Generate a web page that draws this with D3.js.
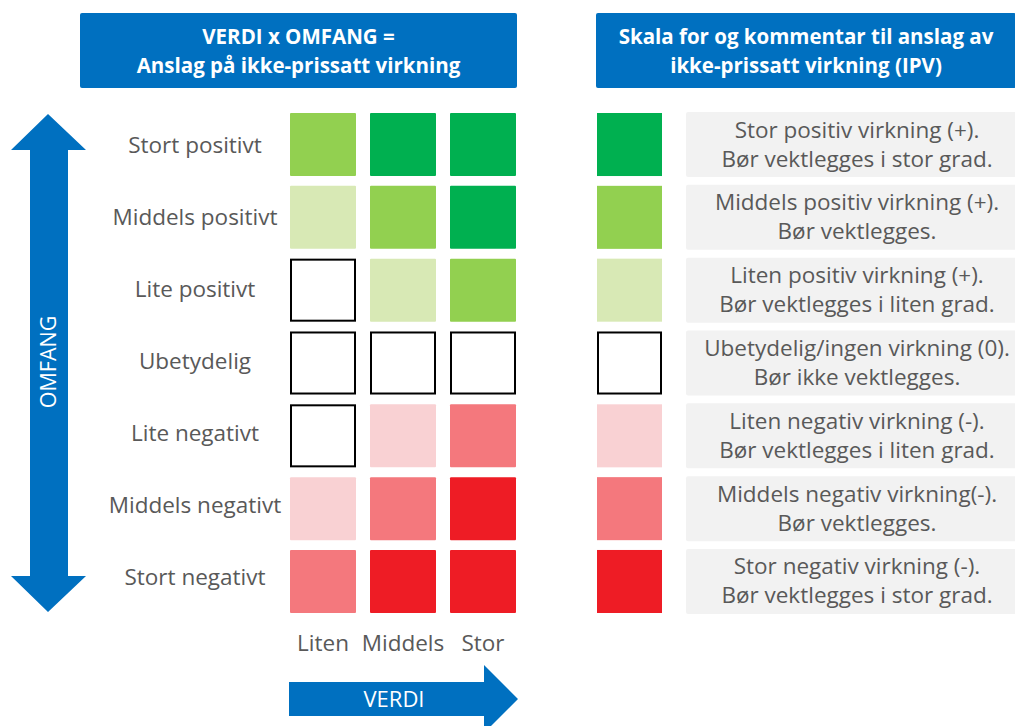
<!DOCTYPE html>
<html><head><meta charset="utf-8">
<script src="https://cdn.jsdelivr.net/npm/d3@7"></script>
<style>body{margin:0;background:#fff}svg{display:block}</style>
</head><body>
<svg id="c" width="1015" height="726"></svg>
<script>
const rowLabels = ["Stort positivt","Middels positivt","Lite positivt","Ubetydelig","Lite negativt","Middels negativt","Stort negativt"];
const colLabels = ["Liten","Middels","Stor"];
// impact level per row (top to bottom) and column (Liten, Middels, Stor)
const gridValues = [
  [2,3,3],
  [1,2,3],
  [0,1,2],
  [0,0,0],
  [0,-1,-2],
  [-1,-2,-3],
  [-2,-3,-3]
];
const scaleLevels = [3,2,1,0,-1,-2,-3];
const scaleLine1 = ["Stor positiv virkning (+).","Middels positiv virkning (+).","Liten positiv virkning (+).","Ubetydelig/ingen virkning (0).","Liten negativ virkning (-).","Middels negativ virkning(-).","Stor negativ virkning (-)."];
const scaleLine2 = ["Bør vektlegges i stor grad.","Bør vektlegges.","Bør vektlegges i liten grad.","Bør ikke vektlegges.","Bør vektlegges i liten grad.","Bør vektlegges.","Bør vektlegges i stor grad."];
const header1 = ["VERDI x OMFANG =","Anslag på ikke-prissatt virkning"];
const header2 = ["Skala for og kommentar til anslag av","ikke-prissatt virkning (IPV)"];
const axisY = "OMFANG", axisX = "VERDI";

const colorScale = d3.scaleOrdinal()
  .domain([3,2,1,0,-1,-2,-3])
  .range(["#00B050","#92D050","#D8E9B5","#FFFFFF","#F9D1D3","#F4787D","#EE1C25"]);

const svg = d3.select("#c");
const BLUE = "#0070C0", TXT = "#595959";
const FONT = "'Open Sans', 'Noto Sans', sans-serif";

const x = d3.scaleBand().domain(colLabels).range([290,516]).paddingInner(0.175);
const y = d3.scaleBand().domain(rowLabels).range([113,613]).paddingInner(0.1346);
const yLabel = d3.scalePoint().domain(rowLabels).range([145,577]);

// headers
function header(x0, x1, lines){
  svg.append("rect").attr("x",x0).attr("y",13).attr("width",x1-x0).attr("height",75).attr("rx",2).attr("fill",BLUE);
  svg.selectAll(null).data(lines).enter().append("text")
    .attr("x",(x0+x1)/2).attr("y",(d,i)=>44+i*29)
    .attr("text-anchor","middle").attr("fill","#fff")
    .attr("font-family",FONT).attr("font-weight","bold").attr("font-size",20.5)
    .text(d=>d);
}
header(80,517,header1);
header(596,1016,header2);

// grid
const g = svg.append("g");
gridValues.forEach((row,ri)=>{
  row.forEach((v,ci)=>{
    const zero = v===0;
    g.append("rect")
      .attr("x",x(colLabels[ci]) + (zero?1:0))
      .attr("y",y(rowLabels[ri]) + (zero?1:0))
      .attr("width",x.bandwidth() - (zero?2:0))
      .attr("height",y.bandwidth() - (zero?2:0))
      .attr("rx", zero?0:1)
      .attr("fill",colorScale(v))
      .attr("stroke",zero?"#000":"none")
      .attr("stroke-width",zero?2:0);
  });
});

// row labels
svg.selectAll(".rl").data(rowLabels).enter().append("text")
  .attr("x",195).attr("y",d=>yLabel(d)+8)
  .attr("text-anchor","middle").attr("fill",TXT)
  .attr("font-family",FONT).attr("font-size",22.5).text(d=>d);

// column labels
svg.selectAll(".cl").data(colLabels).enter().append("text")
  .attr("x",d=>x(d)+x.bandwidth()/2).attr("y",651)
  .attr("text-anchor","middle").attr("fill",TXT)
  .attr("font-family",FONT).attr("font-size",22.5).text(d=>d);

// scale legend
const ys = d3.scaleBand().domain(scaleLevels).range([113,613]).paddingInner(0.1346);
scaleLevels.forEach((v,i)=>{
  const zero = v===0;
  const top = ys(v);
  svg.append("rect")
    .attr("x",597+(zero?1:0)).attr("y",top+(zero?1:0))
    .attr("width",65-(zero?2:0)).attr("height",ys.bandwidth()-(zero?2:0))
    .attr("fill",colorScale(v)).attr("stroke",zero?"#000":"none").attr("stroke-width",zero?2:0);
  svg.append("rect")
    .attr("x",686).attr("y",top-1).attr("width",340).attr("height",ys.bandwidth()+2)
    .attr("rx",2).attr("fill","#F2F2F2");
  const cx = 857;
  svg.append("text").attr("x",cx).attr("y",top+ys.bandwidth()/2-7)
    .attr("text-anchor","middle").attr("fill",TXT).attr("font-family",FONT).attr("font-size",22.5)
    .text(scaleLine1[i]);
  svg.append("text").attr("x",cx).attr("y",top+ys.bandwidth()/2+22)
    .attr("text-anchor","middle").attr("fill",TXT).attr("font-family",FONT).attr("font-size",22.5)
    .text(scaleLine2[i]);
});

// vertical double arrow
const vx = 48;
svg.append("path")
  .attr("d",d3.line()([[vx,114],[86,150],[68,150],[68,576],[86,576],[vx,612],[11,576],[30,576],[30,150],[11,150]]) + "Z")
  .attr("fill",BLUE);
svg.append("text").attr("transform",`translate(${vx+8},362) rotate(-90)`)
  .attr("text-anchor","middle").attr("fill","#fff").attr("font-family",FONT).attr("font-size",21.5)
  .text(axisY);

// horizontal arrow
svg.append("path")
  .attr("d",d3.line()([[289,682],[484,682],[484,665],[518,699],[484,733],[484,716],[289,716]]) + "Z")
  .attr("fill",BLUE);
svg.append("text").attr("x",394).attr("y",707)
  .attr("text-anchor","middle").attr("fill","#fff").attr("font-family",FONT).attr("font-size",22)
  .text(axisX);
</script>
</body></html>
